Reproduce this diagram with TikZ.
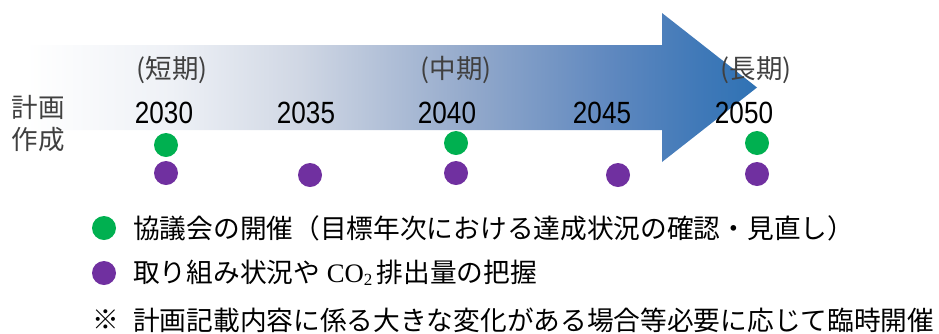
\documentclass[tikz,border=0pt]{standalone}
\usepackage{fontspec}
\newfontfamily\jp{Noto Sans CJK JP}
\newfontfamily\yr{Liberation Sans}[FakeStretch=0.85]
\newfontfamily\latserif{Liberation Serif}
\definecolor{dotgreen}{HTML}{00B050}
\definecolor{dotpurple}{HTML}{7030A0}
\definecolor{labgray}{HTML}{404040}
\definecolor{sA}{HTML}{EEF1F6}
\definecolor{sB}{HTML}{D0D7E4}
\definecolor{sC}{HTML}{93A9CB}
\definecolor{sD}{HTML}{5F88BF}
\definecolor{sE}{HTML}{4079B8}
\definecolor{sF}{HTML}{2F72B4}
\pgfdeclarehorizontalshading{arrowshade}{100bp}{color(0bp)=(white); color(25bp)=(white); color(35bp)=(sA); color(43.8bp)=(sB); color(55.4bp)=(sC); color(65bp)=(sD); color(71bp)=(sE); color(75bp)=(sF); color(100bp)=(sF)}
\begin{document}
\begin{tikzpicture}[x=1pt,y=-1pt,
  gdot/.style={circle,fill=dotgreen,minimum size=24pt,inner sep=0pt},
  pdot/.style={circle,fill=dotpurple,minimum size=24pt,inner sep=0pt},
  year/.style={font=\yr\fontsize{30.7}{32}\selectfont,inner sep=0pt},
  term/.style={font=\jp\fontsize{26.5}{28}\selectfont,text=labgray,inner sep=0pt},
  legend/.style={font=\jp\fontsize{26.7}{28}\selectfont,anchor=west,inner sep=0pt}]
\useasboundingbox (0,0) rectangle (939,333);
\path[shading=arrowshade] (25,45) -- (662,45) -- (662,13) -- (757,87.5) -- (662,162) -- (662,130) -- (25,130) -- cycle;
% left label
\node[term] (plan1) at (38,107) {計画};
\node[term] (plan2) at (38,140) {作成};
% terms
\node[term] (short) at (172,70) {(短期)};
\node[term] (mid) at (456,70) {(中期)};
\node[term] (long) at (756,70) {(長期)};
% years
\node[year] (y2030) at (164,113) {2030};
\node[year] (y2035) at (306,113) {2035};
\node[year] (y2040) at (447,113) {2040};
\node[year] (y2045) at (602,113) {2045};
\node[year] (y2050) at (744,113) {2050};
% dots
\node[gdot] (g1) at (166,145) {};
\node[gdot] (g2) at (456,143) {};
\node[gdot] (g3) at (757,143) {};
\node[pdot] (p1) at (166,173) {};
\node[pdot] (p2) at (310,175) {};
\node[pdot] (p3) at (456,173) {};
\node[pdot] (p4) at (618,175) {};
\node[pdot] (p5) at (757,174) {};
% legend
\node[gdot] (lg) at (104,228) {};
\node[legend] (t1) at (133,228) {協議会の開催（目標年次における達成状況の確認・見直し）};
\node[pdot] (lp) at (104,273) {};
\node[legend] (t2) at (133,273) {取り組み状況や{\latserif\ CO\raisebox{-0.1em}{\fontsize{17}{17}\selectfont 2}\,}排出量の把握};
\node[font=\jp\fontsize{26.7}{28}\selectfont,inner sep=0pt] (note) at (106,320) {※};
\node[legend] (t3) at (133,320) {計画記載内容に係る大きな変化がある場合等必要に応じて臨時開催};
\end{tikzpicture}
\end{document}
